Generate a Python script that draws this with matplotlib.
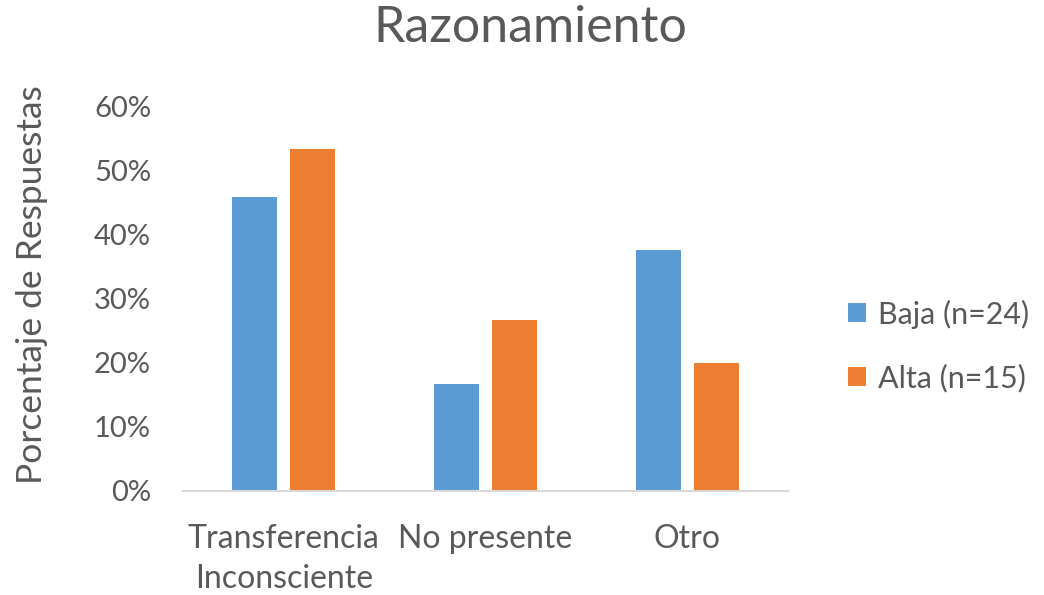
import numpy as np
import matplotlib.pyplot as plt
from matplotlib.ticker import PercentFormatter

plt.rcParams['font.family'] = ['Lato', 'DejaVu Sans']

categorias = ['Transferencia\nInconsciente', 'No presente', 'Otro']
baja = [45.8, 16.7, 37.5]   # n=24
alta = [53.3, 26.7, 20.0]   # n=15
series = ['Baja (n=24)', 'Alta (n=15)']
colores = ['#5B9BD5', '#ED7D31']
gris = '#595959'

fig = plt.figure(figsize=(10.44, 5.95), dpi=100)
ax = fig.add_axes([0.1753, 0.1748, 0.5795, 0.647])

x = np.arange(len(categorias))
w = 0.223
ax.bar(x - 0.144, baja, w, color=colores[0], label=series[0])
ax.bar(x + 0.144, alta, w, color=colores[1], label=series[1])

ax.set_xlim(-0.5, 2.5)
ax.set_ylim(0, 60)
ax.set_yticks(np.arange(0, 61, 10))
ax.yaxis.set_major_formatter(PercentFormatter(decimals=0))
ax.set_xticks(x)
ax.set_xticklabels(categorias, fontsize=23, color=gris, linespacing=1.4)
ax.tick_params(axis='y', labelsize=21, labelcolor=gris, length=0, pad=23)
ax.tick_params(axis='x', length=0, pad=24)

for s in ['top', 'right', 'left']:
    ax.spines[s].set_visible(False)
ax.spines['bottom'].set_color('#D9D9D9')
ax.spines['bottom'].set_linewidth(1.5)

ax.set_ylabel('Porcentaje de Respuestas', fontsize=25.5, color=gris, labelpad=33)
ax.yaxis.label.set_y(0.535)
fig.text(0.508, 0.953, 'Razonamiento', ha='center', va='center',
         fontsize=36, color=gris)

ax.legend(loc='center left', bbox_to_anchor=(1.099, 0.377), frameon=False,
          borderaxespad=0, borderpad=0, fontsize=22, labelcolor=gris,
          handlelength=0.6, handleheight=0.6, handletextpad=0.4,
          labelspacing=1.15)

fig.savefig('out.png', dpi=100)
